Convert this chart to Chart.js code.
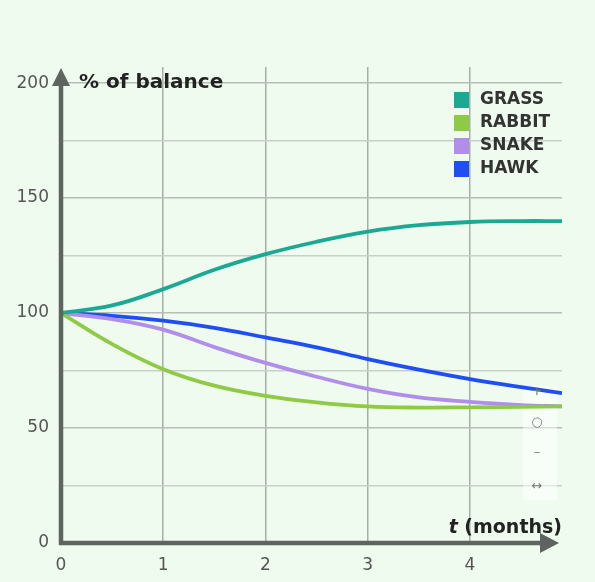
<!DOCTYPE html>
<html>
<head>
<meta charset="utf-8">
<script src="https://cdn.jsdelivr.net/npm/chart.js@4"></script>
<style>
  html, body { margin: 0; padding: 0; background: #eefbee; }
  canvas { display: block; }
</style>
</head>
<body>
<canvas id="chart" width="595" height="582"></canvas>
<script>
"use strict";

// values, % of balance per month
const months = [0, 0.5, 1, 1.5, 2, 2.5, 3, 3.5, 4, 4.5, 4.9];
const grass  = [100, 103.3, 110.4, 118.8, 125.6, 131, 135.4, 138.2, 139.6, 140, 140];
const rabbit = [100, 86.5, 75.6, 68.4, 64, 61.2, 59.4, 58.9, 59, 59.2, 59.4];
const snake  = [100, 97.4, 92.8, 85.2, 78.3, 72.3, 67, 63.3, 61.4, 60, 59.4];
const hawk   = [100, 98.8, 96.7, 93.6, 89.4, 85.1, 80, 75.4, 71.3, 67.8, 65.2];

const seriesNames = ["GRASS", "RABBIT", "SNAKE", "HAWK"];
const seriesColors = ["#1ba993", "#8fca45", "#b18ee9", "#1f4ef3"];
const yTicks = [0, 50, 100, 150, 200];
const xTicks = [0, 1, 2, 3, 4];

const allSeries = [grass, rabbit, snake, hawk];

function points(values) {
  return months.map((m, i) => ({ x: m, y: values[i] }));
}

const AXIS = "#5e645f";

// background, axes with arrows, titles, legend
const decor = {
  id: "decor",
  beforeDraw(chart) {
    const c = chart.ctx;
    c.save();
    c.fillStyle = "#eefbee";
    c.fillRect(0, 0, chart.width, chart.height);
    c.restore();
  },
  beforeDatasetsDraw(chart) {
    // small overlay panel on the right (sits under the curves)
    const c = chart.ctx;
    c.save();
    c.fillStyle = "rgba(255,255,255,0.5)";
    c.fillRect(523, 386, 34, 114);
    c.restore();
  },
  afterDatasetsDraw(chart) {
    const c = chart.ctx;
    const xs = chart.scales.x;
    const ys = chart.scales.y;
    const x0 = xs.getPixelForValue(0);
    const y0 = ys.getPixelForValue(0);
    const area = chart.chartArea;

    c.save();
    c.fillStyle = "#7a7a7a";
    c.font = "13px 'DejaVu Sans'";
    c.textAlign = "center";
    c.textBaseline = "middle";
    c.fillText("+", 537, 392);
    c.fillText("○", 537, 423);
    c.fillText("–", 537, 453);
    c.fillText("↔", 537, 487);

    // axes
    c.strokeStyle = AXIS;
    c.fillStyle = AXIS;
    c.lineWidth = 4.5;
    c.beginPath();
    c.moveTo(x0, y0 + 2);
    c.lineTo(x0, area.top + 16);
    c.moveTo(x0 - 2, y0);
    c.lineTo(area.right - 18, y0);
    c.stroke();

    c.beginPath();
    c.moveTo(x0, area.top + 1);
    c.lineTo(x0 - 9, area.top + 19);
    c.lineTo(x0 + 9, area.top + 19);
    c.closePath();
    c.fill();

    c.beginPath();
    c.moveTo(area.right - 3, y0);
    c.lineTo(area.right - 22, y0 - 10);
    c.lineTo(area.right - 22, y0 + 10);
    c.closePath();
    c.fill();

    // axis titles
    c.fillStyle = "#222";
    c.textAlign = "left";
    c.textBaseline = "middle";
    c.font = "bold 20px 'DejaVu Sans'";
    c.fillText("% of balance", x0 + 18, ys.getPixelForValue(200));

    c.textBaseline = "alphabetic";
    c.textAlign = "right";
    c.font = "bold 19px 'DejaVu Sans'";
    const rest = " (months)";
    c.fillText(rest, area.right, y0 - 10);
    const w = c.measureText(rest).width;
    c.font = "italic bold 19px 'DejaVu Sans'";
    c.fillText("t", area.right - w, y0 - 10);

    // legend
    c.textAlign = "left";
    c.textBaseline = "middle";
    c.font = "bold 17px 'DejaVu Sans'";
    seriesNames.forEach((name, i) => {
      const y = 100 + i * 23;
      c.fillStyle = seriesColors[i];
      c.fillRect(454, y - 8, 15, 16);
      c.fillStyle = "#333";
      c.fillText(name, 480, y);
    });
    c.restore();
  }
};

const myChart = new Chart(document.getElementById("chart"), {
  type: "line",
  data: {
    datasets: allSeries.map((values, i) => ({
      label: seriesNames[i],
      data: points(values),
      borderColor: seriesColors[i],
      borderWidth: 3.8,
      pointRadius: 0,
      tension: 0.4,
      fill: false
    }))
  },
  options: {
    responsive: false,
    animation: false,
    devicePixelRatio: 1,
    layout: { padding: { top: 67, right: 33, left: 0, bottom: 0 } },
    plugins: {
      legend: { display: false },
      tooltip: { enabled: false }
    },
    scales: {
      x: {
        type: "linear",
        min: 0,
        max: 4.9,
        border: { display: false },
        afterFit(scale) { scale.height = 39; },
        afterBuildTicks(scale) { scale.ticks = xTicks.map(v => ({ value: v })); },
        grid: {
          drawTicks: false,
          color: ctx => ctx.tick && ctx.tick.value === 0 ? "rgba(0,0,0,0)" : "#a7aea8",
          lineWidth: 1.5
        },
        ticks: {
          autoSkip: false,
          maxRotation: 0,
          padding: 12,
          color: "#555",
          font: { family: "'DejaVu Sans'", size: 17 }
        }
      },
      y: {
        min: 0,
        max: 207,
        border: { display: false },
        afterFit(scale) { scale.width = 61; },
        afterBuildTicks(scale) {
          const t = [];
          for (let v = 0; v <= 200; v += 25) t.push({ value: v });
          scale.ticks = t;
        },
        grid: {
          drawTicks: false,
          color: ctx => {
            const v = ctx.tick ? ctx.tick.value : 0;
            if (v === 0) return "rgba(0,0,0,0)";
            return v % 50 === 0 ? "#b7beb8" : "#c9d0ca";
          },
          lineWidth: 1.5
        },
        ticks: {
          autoSkip: false,
          padding: 12,
          color: "#555",
          font: { family: "'DejaVu Sans'", size: 17 },
          callback: v => yTicks.includes(v) ? String(v) : ""
        }
      }
    }
  },
  plugins: [decor]
});
</script>
</body>
</html>
